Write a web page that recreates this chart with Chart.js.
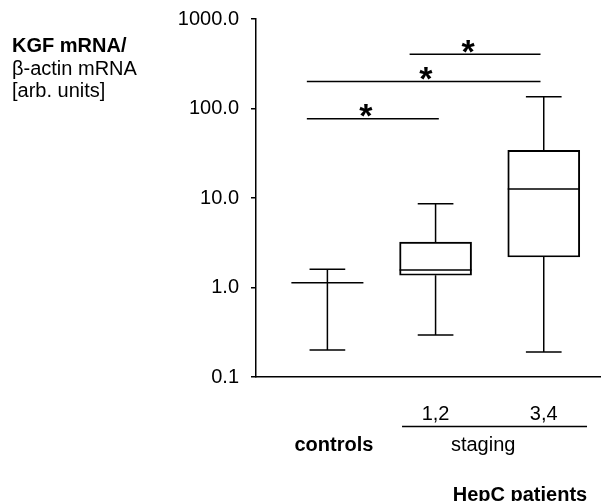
<!DOCTYPE html>
<html>
<head>
<meta charset="utf-8">
<script src="https://cdn.jsdelivr.net/npm/chart.js@4.4.1/dist/chart.umd.min.js"></script>
<style>
  html, body { margin: 0; padding: 0; background: #fff; }
  #wrap { width: 604px; height: 501px; }
</style>
</head>
<body>
<div id="wrap"><canvas id="boxChart"></canvas></div>
<script>
// groups: controls, HepC staging 1,2 and 3,4
var groupPos = [1, 2, 3];
var groupLabels = ['controls', '1,2', '3,4'];
var whiskerLow = [0.2, 0.295, 0.19];
var boxLow = [1.13, 1.37, 2.19];
var medians = [1.13, 1.57, 12.6];
var boxHigh = [1.13, 3.22, 34.1];
var whiskerHigh = [1.6, 8.6, 135];

// significance bars (x in group units, level in y units)
var sigFrom = [1.76, 0.81, 0.81];
var sigTo = [2.97, 2.97, 2.03];
var sigLevel = [405, 200, 77];
var sigStar = [2.30, 1.91, 1.355];

var yTicks = [0.1, 1, 10, 100, 1000];

var fontFam = '"Liberation Sans", Arial, sans-serif';

var boxPlugin = {
  id: 'boxPlugin',
  afterDatasetsDraw: function(chart) {
    var ctx = chart.ctx;
    var xs = chart.scales.x, ys = chart.scales.y;
    ctx.save();
    ctx.strokeStyle = '#000';
    ctx.lineWidth = 1.5;
    groupPos.forEach(function(g, i) {
      var cx = xs.getPixelForValue(g);
      var capW = xs.getPixelForValue(g + 0.165) - cx;
      var medW = xs.getPixelForValue(g + 0.333) - cx;
      var yl = ys.getPixelForValue(whiskerLow[i]);
      var yh = ys.getPixelForValue(whiskerHigh[i]);
      ctx.beginPath();
      // whiskers
      ctx.moveTo(cx, yl);
      ctx.lineTo(cx, ys.getPixelForValue(boxLow[i]));
      ctx.moveTo(cx, ys.getPixelForValue(boxHigh[i]));
      ctx.lineTo(cx, yh);
      // caps
      ctx.moveTo(cx - capW, yl); ctx.lineTo(cx + capW, yl);
      ctx.moveTo(cx - capW, yh); ctx.lineTo(cx + capW, yh);
      // median
      var ym = ys.getPixelForValue(medians[i]);
      ctx.moveTo(cx - medW, ym); ctx.lineTo(cx + medW, ym);
      ctx.stroke();
    });

    // significance lines + stars
    sigLevel.forEach(function(lv, i) {
      var y = ys.getPixelForValue(lv);
      ctx.beginPath();
      ctx.moveTo(xs.getPixelForValue(sigFrom[i]), y);
      ctx.lineTo(xs.getPixelForValue(sigTo[i]), y);
      ctx.stroke();
      ctx.fillStyle = '#000';
      ctx.font = 'bold 34px ' + fontFam;
      ctx.textAlign = 'center';
      ctx.textBaseline = 'alphabetic';
      ctx.fillText('*', xs.getPixelForValue(sigStar[i]), y + 8.5);
    });
    ctx.restore();
  },
  afterDraw: function(chart) {
    var ctx = chart.ctx;
    var xs = chart.scales.x;
    ctx.save();
    ctx.fillStyle = '#000';
    ctx.textBaseline = 'alphabetic';
    ctx.textAlign = 'left';
    // y axis title block
    ctx.font = 'bold 20px ' + fontFam;
    ctx.fillText('KGF mRNA/', 12, 52);
    ctx.font = '20px ' + fontFam;
    ctx.fillText('\u03b2-actin mRNA', 12, 75);
    ctx.fillText('[arb. units]', 12, 97);

    // category labels
    ctx.textAlign = 'center';
    ctx.font = '20px ' + fontFam;
    ctx.fillText(groupLabels[1], xs.getPixelForValue(groupPos[1]), 420);
    ctx.fillText(groupLabels[2], xs.getPixelForValue(groupPos[2]), 420);
    ctx.fillText('staging', xs.getPixelForValue(2.44), 451);
    ctx.font = 'bold 20px ' + fontFam;
    ctx.fillText(groupLabels[0], xs.getPixelForValue(groupPos[0] + 0.06), 451);
    ctx.fillText('HepC patients', xs.getPixelForValue(2.78), 501);

    ctx.strokeStyle = '#000';
    ctx.lineWidth = 1.5;
    ctx.beginPath();
    ctx.moveTo(xs.getPixelForValue(1.69), 426.5);
    ctx.lineTo(xs.getPixelForValue(3.4), 426.5);
    ctx.stroke();
    ctx.restore();
  }
};

var myChart = new Chart(document.getElementById('boxChart').getContext('2d'), {
  type: 'bar',
  data: {
    datasets: [{
      data: groupPos.map(function(g, i) { return { x: g, y: [boxLow[i], boxHigh[i]] }; }),
      backgroundColor: 'rgba(255,255,255,0)',
      borderColor: '#000',
      borderWidth: 1.3,
      borderSkipped: false,
      barThickness: 72
    }]
  },
  options: {
    responsive: true,
    maintainAspectRatio: false,
    animation: false,
    layout: { padding: { top: 19, right: 4, left: 0, bottom: 0 } },
    plugins: { legend: { display: false }, tooltip: { enabled: false } },
    scales: {
      x: {
        type: 'linear',
        min: 0.34,
        max: 3.52,
        offset: false,
        ticks: { display: false },
        grid: { display: false },
        border: { display: true, color: '#000', width: 1.5 },
        afterFit: function(scale) {
          scale.height = 124;
          scale.paddingLeft = 0; scale.paddingRight = 0;
        }
      },
      y: {
        type: 'logarithmic',
        min: 0.1,
        max: 1000,
        afterBuildTicks: function(scale) {
          scale.ticks = yTicks.map(function(v) { return { value: v }; });
        },
        ticks: {
          color: '#000',
          padding: 12,
          font: { family: fontFam, size: 20 },
          callback: function(v) { return Number(v).toFixed(1); }
        },
        grid: { drawOnChartArea: false, drawTicks: true, tickLength: 5, color: '#000', lineWidth: 1.5 },
        border: { display: true, color: '#000', width: 1.5 },
        afterFit: function(scale) {
          scale.width = 256;
          scale.paddingTop = 0; scale.paddingBottom = 0;
        }
      }
    }
  },
  plugins: [boxPlugin]
});
</script>
</body>
</html>
